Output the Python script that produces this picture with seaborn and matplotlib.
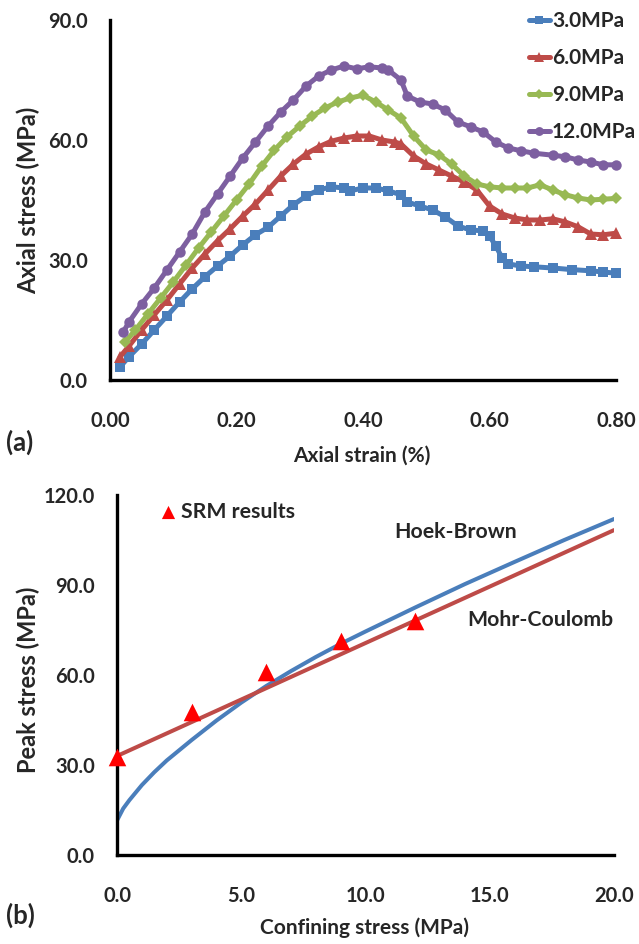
import numpy as np
import pandas as pd
import matplotlib
matplotlib.use("Agg")
import matplotlib.pyplot as plt
import seaborn as sns
from matplotlib.ticker import FormatStrFormatter

# ---------------- data: panel (a) ----------------
strain_3 = [0.016,0.03,0.05,0.07,0.09,0.11,0.13,0.15,0.17,0.19,0.21,0.23,0.25,0.27,0.29,0.31,0.33,0.35,0.37,0.38,0.40,0.42,0.44,0.46,0.47,0.49,0.51,0.53,0.55,0.57,0.59,0.60,0.61,0.62,0.63,0.65,0.67,0.70,0.73,0.76,0.78,0.80]
stress_3 = [3.3,5.8,9.0,12.5,16.0,19.5,22.8,25.8,28.5,31.0,33.8,36.3,38.2,41.0,43.8,46.0,47.5,48.3,48.0,47.3,48.0,48.0,47.3,46.3,44.5,43.5,42.5,40.8,38.5,37.5,37.3,36.0,33.5,30.5,29.0,28.5,28.3,28.0,27.6,27.3,27.0,26.7]

strain_6 = [0.016,0.03,0.05,0.07,0.09,0.11,0.13,0.15,0.17,0.19,0.21,0.23,0.25,0.27,0.29,0.31,0.33,0.35,0.37,0.39,0.41,0.43,0.45,0.46,0.48,0.50,0.52,0.54,0.56,0.58,0.60,0.62,0.64,0.66,0.68,0.70,0.72,0.74,0.76,0.78,0.80]
stress_6 = [5.8,8.5,12.5,16.3,20.0,24.0,28.0,31.5,34.8,37.8,41.0,44.0,47.5,51.0,54.0,56.5,58.3,59.7,60.5,61.0,61.0,60.0,59.5,59.0,56.0,54.0,52.5,51.0,49.5,47.5,43.5,41.5,40.5,40.0,40.0,40.3,39.5,38.3,36.5,36.3,36.7]

strain_9 = [0.024,0.04,0.06,0.08,0.10,0.12,0.14,0.16,0.18,0.20,0.22,0.24,0.26,0.28,0.30,0.32,0.34,0.36,0.38,0.40,0.42,0.44,0.46,0.48,0.50,0.52,0.54,0.56,0.58,0.60,0.62,0.64,0.66,0.68,0.70,0.72,0.74,0.76,0.78,0.80]
stress_9 = [9.5,12.5,16.5,20.5,24.5,28.7,33.0,37.0,41.0,45.0,49.0,53.5,57.5,60.8,63.5,66.0,68.0,69.5,70.5,71.2,69.5,67.5,65.5,61.0,57.5,56.3,54.0,51.0,49.0,48.3,48.0,48.0,48.0,48.8,47.5,46.3,45.5,45.0,45.2,45.4]

strain_12 = [0.021,0.03,0.05,0.07,0.09,0.11,0.13,0.15,0.17,0.19,0.21,0.23,0.25,0.27,0.29,0.31,0.33,0.35,0.37,0.39,0.41,0.43,0.44,0.46,0.47,0.49,0.51,0.53,0.55,0.57,0.59,0.61,0.63,0.65,0.67,0.70,0.72,0.74,0.76,0.78,0.80]
stress_12 = [12.0,14.5,19.0,23.0,27.5,32.0,36.5,42.0,46.5,51.0,55.5,59.5,63.5,67.0,70.0,73.5,76.0,77.5,78.5,77.8,78.3,78.0,77.5,75.0,71.0,69.5,69.0,67.5,64.5,63.3,62.0,59.5,58.0,57.3,56.7,56.2,55.8,55.0,54.5,53.8,53.8]

series_labels = ["3.0MPa", "6.0MPa", "9.0MPa", "12.0MPa"]

# ---------------- data: panel (b) ----------------
srm_conf = [0, 3, 6, 9, 12]
srm_peak = [32.8, 47.8, 61.0, 71.2, 78.0]

hb_conf = [0, 0.25, 0.5, 1, 1.5, 2, 3, 4, 5, 6, 7, 8, 9, 10, 12, 14, 16, 18, 20]
hb_peak = [11.5, 15.5, 18.3, 23.3, 27.6, 31.5, 38.3, 44.8, 50.8, 56.3, 61.3, 66.0, 70.4, 74.5, 82.5, 90.3, 97.7, 105.0, 112.0]

mc_conf = [0, 20]
mc_peak = [33.0, 108.3]

# ---------------- style ----------------
sns.set_style("white")
plt.rcParams['font.family'] = ['Lato', 'DejaVu Sans']
plt.rcParams['font.weight'] = 'bold'

W, H = 639, 944
fig = plt.figure(figsize=(W / 100, H / 100), dpi=100)

def fx(px):
    return px / W

def fy(py):
    return 1 - py / H

colors = ["#4A7EBB", "#BE4B48", "#98B954", "#7D5FA0"]
markers = ["s", "^", "D", "o"]
msizes = [7.5, 8.5, 6.5, 7.5]

TICK_FS = 14.5
LAB_FS = 15
YLAB_FS = 17

def style_axes(ax, xpad, ypad):
    for s in ["top", "right"]:
        ax.spines[s].set_visible(False)
    for s in ["left", "bottom"]:
        ax.spines[s].set_linewidth(2.4)
        ax.spines[s].set_color("black")
    ax.tick_params(axis="both", which="major", direction="out", length=5,
                   width=2.0, color="black", labelsize=TICK_FS)
    ax.tick_params(axis="x", pad=xpad)
    ax.tick_params(axis="y", pad=ypad)
    for lab in ax.get_xticklabels() + ax.get_yticklabels():
        lab.set_fontweight("bold")

# ---------------- panel (a) ----------------
ax1 = fig.add_axes([fx(110), fy(380), fx(616) - fx(110), fy(20) - fy(380)])
dfs = [
    pd.DataFrame({"strain": strain_3, "stress": stress_3}),
    pd.DataFrame({"strain": strain_6, "stress": stress_6}),
    pd.DataFrame({"strain": strain_9, "stress": stress_9}),
    pd.DataFrame({"strain": strain_12, "stress": stress_12}),
]
for df, c, m, ms, lab in zip(dfs, colors, markers, msizes, series_labels):
    sns.lineplot(data=df, x="strain", y="stress", ax=ax1, color=c, marker=m,
                 markersize=ms, markeredgewidth=0, linewidth=3.6, label=lab,
                 clip_on=False)

ax1.set_xlim(0, 0.8)
ax1.set_ylim(0, 90)
ax1.set_xticks([0, 0.2, 0.4, 0.6, 0.8])
ax1.set_yticks([0, 30, 60, 90])
ax1.xaxis.set_major_formatter(FormatStrFormatter("%.2f"))
ax1.yaxis.set_major_formatter(FormatStrFormatter("%.1f"))
ax1.set_xlabel("")
ax1.set_ylabel("")
style_axes(ax1, xpad=17, ypad=11)

leg = ax1.legend(loc="upper right", bbox_to_anchor=(fx(636), fy(11)),
                 bbox_transform=fig.transFigure, frameon=False,
                 fontsize=15, handlelength=1.0, handletextpad=0.1,
                 labelspacing=0.82, borderpad=0, borderaxespad=0,
                 markerscale=0.85)
for t in leg.get_texts():
    t.set_fontweight("bold")

fig.text(fx(362), fy(456), "Axial strain (%)", ha="center", va="center",
         fontsize=LAB_FS, fontweight="bold")
fig.text(fx(28), fy(200), "Axial stress (MPa)", ha="center", va="center",
         rotation=90, fontsize=YLAB_FS, fontweight="bold")
fig.text(fx(6), fy(442), "(a)", ha="left", va="center",
         fontsize=18.5, fontweight="bold")

# ---------------- panel (b) ----------------
ax2 = fig.add_axes([fx(117), fy(855), fx(614) - fx(117), fy(495) - fy(855)])
df_hb = pd.DataFrame({"conf": hb_conf, "peak": hb_peak})
df_mc = pd.DataFrame({"conf": mc_conf, "peak": mc_peak})
df_srm = pd.DataFrame({"conf": srm_conf, "peak": srm_peak})

sns.lineplot(data=df_hb, x="conf", y="peak", ax=ax2, color="#4A7EBB",
             linewidth=2.9)
sns.lineplot(data=df_mc, x="conf", y="peak", ax=ax2, color="#BE4B48",
             linewidth=2.9)
sns.scatterplot(data=df_srm, x="conf", y="peak", ax=ax2, color="#FF0000",
                marker="^", s=160, linewidth=0, clip_on=False, zorder=5,
                label="SRM results")

ax2.set_xlim(0, 20)
ax2.set_ylim(0, 120)
ax2.set_xticks([0, 5, 10, 15, 20])
ax2.set_yticks([0, 30, 60, 90, 120])
ax2.xaxis.set_major_formatter(FormatStrFormatter("%.1f"))
ax2.yaxis.set_major_formatter(FormatStrFormatter("%.1f"))
ax2.set_xlabel("")
ax2.set_ylabel("")
style_axes(ax2, xpad=17, ypad=11)

leg2 = ax2.legend(loc="center left", bbox_to_anchor=(fx(158), fy(512)),
                  bbox_transform=fig.transFigure, frameon=False,
                  fontsize=15.3, handlelength=0.9, handletextpad=0.2,
                  borderpad=0, borderaxespad=0, markerscale=0.75)
for t in leg2.get_texts():
    t.set_fontweight("bold")

fig.text(fx(456), fy(532), "Hoek-Brown", ha="center", va="center",
         fontsize=15.3, fontweight="bold")
fig.text(fx(540), fy(620), "Mohr-Coulomb", ha="center", va="center",
         fontsize=15.3, fontweight="bold")
fig.text(fx(365), fy(928), "Confining stress (MPa)", ha="center", va="center",
         fontsize=LAB_FS, fontweight="bold")
fig.text(fx(28), fy(680), "Peak stress (MPa)", ha="center", va="center",
         rotation=90, fontsize=YLAB_FS, fontweight="bold")
fig.text(fx(6), fy(915), "(b)", ha="left", va="center",
         fontsize=18.5, fontweight="bold")

fig.savefig("out.png", dpi=100, facecolor="white")
